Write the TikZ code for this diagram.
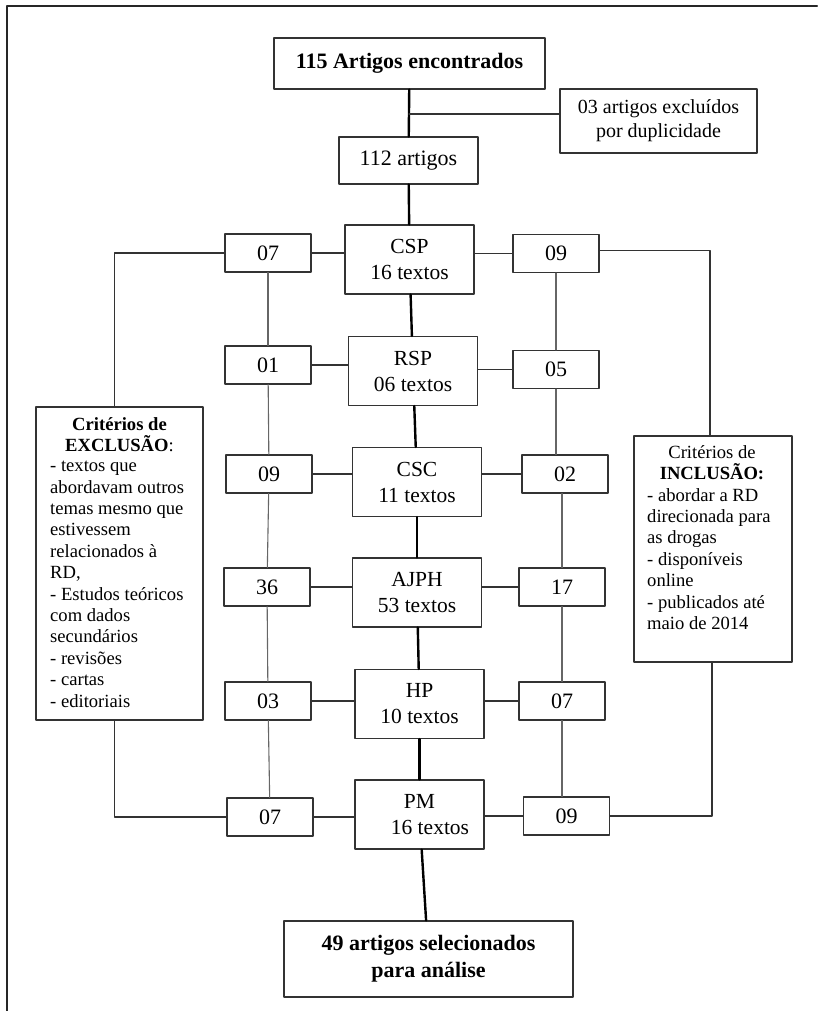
\documentclass[tikz,border=0pt]{standalone}
\usepackage{fontspec}
\setmainfont{Liberation Serif}
\begin{document}
\begin{tikzpicture}[x=1pt, y=-1pt, line join=round, line cap=round,
	box/.style={draw=black!80, line width=1.2pt, inner sep=0pt, align=center},
	journal/.style={box, minimum width=129pt, minimum height=69pt, font=\fontsize{21.5}{26}\selectfont},
	count/.style={box, minimum width=86pt, minimum height=38pt, font=\fontsize{22}{25}\selectfont},
	crit/.style={font=\fontsize{18.6}{21.4}\selectfont, inner sep=0pt},
	spine/.style={line width=2.4pt},
	link/.style={line width=1.4pt, black!80},
	thin/.style={line width=1.1pt, black!60}]
	\useasboundingbox (0,0) rectangle (817,1011);
	\draw[line width=2.6pt, black!85] (7,1011) -- (7,6) -- (817,6);
	% top of the flow
	\node[box, minimum width=271pt, minimum height=51pt, font=\bfseries\fontsize{22}{25}\selectfont] (found) at (409.5,63.5) {115 Artigos encontrados};
	\node[box, minimum width=197pt, minimum height=64pt, font=\fontsize{20}{24}\selectfont] (dup) at (658.5,121) {03 artigos excluídos\\por duplicidade};
	\node[box, minimum width=139pt, minimum height=47pt, font=\fontsize{22}{25}\selectfont] (remain) at (408.5,160.5) {112 artigos};
	% journals
	\node[journal] (csp) at (409.5,259.5) {CSP\\16 textos};
	\node[journal] (rsp) at (413,371) {RSP\\06 textos};
	\node[journal] (csc) at (417,482) {CSC\\11 textos};
	\node[journal] (ajph) at (417,592.5) {AJPH\\53 textos};
	\node[journal] (hp) at (419.5,704) {HP\\10 textos};
	\node[journal] (pm) at (419.5,814.5) {PM\\\hspace*{21pt}16 textos};
	\node[box, minimum width=289pt, minimum height=76pt, font=\bfseries\fontsize{22}{27}\selectfont] (final) at (428.5,959) {49 artigos selecionados\\para análise};
	% excluded counts
	\node[count] (l1) at (268,253) {07};
	\node[count] (l2) at (268,365) {01};
	\node[count] (l3) at (269,474) {09};
	\node[count] (l4) at (267,587) {36};
	\node[count] (l5) at (268,701) {03};
	\node[count] (l6) at (270,817) {07};
	% included counts
	\node[count] (r1) at (556,253.5) {09};
	\node[count] (r2) at (556,369.5) {05};
	\node[count] (r3) at (565,474) {02};
	\node[count] (r4) at (562,587) {17};
	\node[count] (r5) at (562,701) {07};
	\node[count] (r6) at (566.5,816) {09};
	% criteria boxes
	\node[box, minimum width=167pt, minimum height=313pt] (exc) at (119.5,563.5) {};
	\node[crit, anchor=north, align=center, font=\bfseries\fontsize{18.6}{21.4}\selectfont] (exctitle) at (119.5,417) {Critérios de\\EXCLUSÃO{\mdseries:}};
	\node[crit, anchor=north west, align=left] (excbody) at (50,461) {- textos que\\abordavam outros\\temas mesmo que\\estivessem\\relacionados à\\RD,\\- Estudos teóricos\\com dados\\secundários\\- revisões\\- cartas\\- editoriais};
	\node[box, minimum width=158pt, minimum height=226pt] (inc) at (713,549) {};
	\node[crit, anchor=north, align=center] (inctitle) at (712,445) {Critérios de\\\textbf{INCLUSÃO:}};
	\node[crit, anchor=north west, align=left] (incbody) at (647,488) {- abordar a RD\\direcionada para\\as drogas\\- disponíveis\\online\\- publicados até\\maio de 2014};
	% main line
	\coordinate (dupjoin) at (409,114);
	\draw[spine] (found) -- (remain);
	\draw[link] (dupjoin) -- (dupjoin -| dup.west);
	\draw[spine] (remain) -- (csp);
	\draw[spine] (csp) -- (rsp);
	\draw[spine] (rsp) -- (csc);
	\draw[spine] (csc) -- (ajph);
	\draw[spine] (ajph) -- (hp);
	\draw[spine] (hp) -- (pm);
	\draw[spine] (pm) -- (final);
	% side links
	\draw[link] (l1.east) -- (l1.east -| csp.west);
	\draw[link] (l2.east) -- (l2.east -| rsp.west);
	\draw[link] (l3.east) -- (l3.east -| csc.west);
	\draw[link] (l4.east) -- (l4.east -| ajph.west);
	\draw[link] (l5.east) -- (l5.east -| hp.west);
	\draw[link] (l6.east) -- (l6.east -| pm.west);
	\draw[link] (r1.west) -- (r1.west -| csp.east);
	\draw[link] (r2.west) -- (r2.west -| rsp.east);
	\draw[link] (r3.west) -- (r3.west -| csc.east);
	\draw[link] (r4.west) -- (r4.west -| ajph.east);
	\draw[link] (r5.west) -- (r5.west -| hp.east);
	\draw[link] (r6.west) -- (r6.west -| pm.east);
	% columns
	\draw[thin] (l1) -- (l2);
	\draw[thin] (l2) -- (l3);
	\draw[thin] (l3) -- (l4);
	\draw[thin] (l4) -- (l5);
	\draw[thin] (l5) -- (l6);
	\draw[thin] (r1) -- (r2);
	\draw[thin] (r2.south) -- (r2.south |- r3.north);
	\draw[thin] (r4.north) -- (r4.north |- r3.south);
	\draw[thin] (r4) -- (r5);
	\draw[thin] (r5.south) -- (r5.south |- r6.north);
	% criteria links
	\draw[link] (l1.west) -| ([xshift=-5pt]exc.north);
	\draw[link] (l6.west) -| ([xshift=-5pt]exc.south);
	\draw[link] ([yshift=3pt]r1.east) -| ([xshift=-3pt]inc.north);
	\draw[link] (r6.east) -| ([xshift=-1pt]inc.south);
\end{tikzpicture}
\end{document}
